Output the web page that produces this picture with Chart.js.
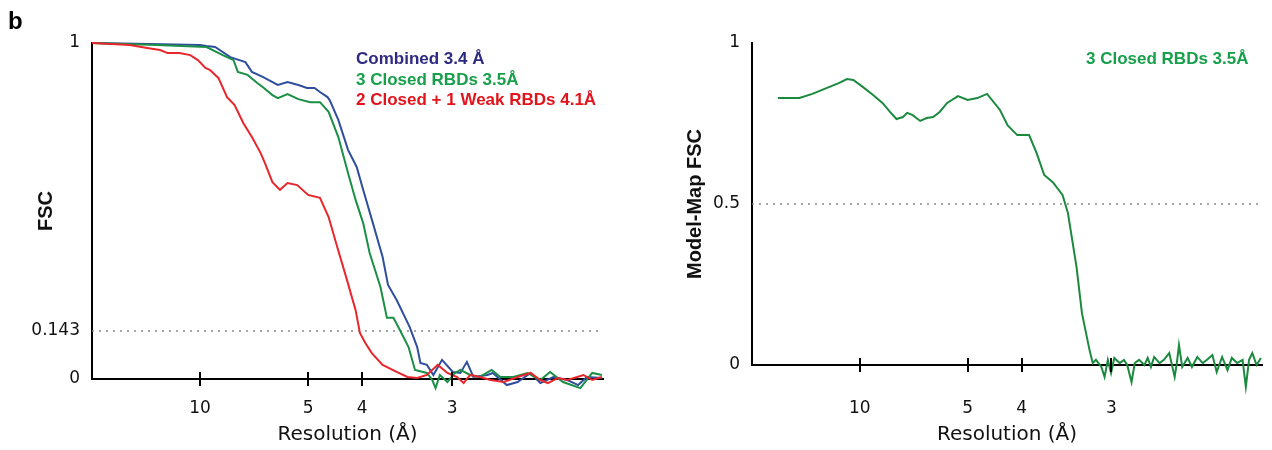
<!DOCTYPE html>
<html>
<head>
<meta charset="utf-8">
<script src="https://cdn.jsdelivr.net/npm/chart.js@4.4.0/dist/chart.umd.min.js"></script>
<style>
  body { margin: 0; background: #fff; }
  #wrap { position: relative; width: 1272px; height: 450px; }
  canvas { position: absolute; top: 0; }
  .txt { position: absolute; font-family: "Liberation Sans", Arial, sans-serif; font-weight: bold; white-space: nowrap; }
  .leg { font-size: 17px; line-height: 20.5px; }
</style>
</head>
<body>
<div id="wrap">
  <canvas id="fscChart" width="636" height="450" style="left:0"></canvas>
  <canvas id="mmChart" width="636" height="450" style="left:636px"></canvas>
  <div class="txt" style="left:8px;top:9px;font-size:24px;line-height:24px;color:#000">b</div>
  <div class="txt leg" style="left:356px;top:49px">
    <div style="color:#2e2a82">Combined 3.4 Å</div>
    <div style="color:#16a04a">3 Closed RBDs 3.5Å</div>
    <div style="color:#e3131b">2 Closed + 1 Weak RBDs 4.1Å</div>
  </div>
  <div class="txt leg" style="left:1086px;top:49px;color:#16a04a">3 Closed RBDs 3.5Å</div>
</div>
<script>
// eixo x em frequência espacial (1/Å), rotulado em Å
var freqMax = 0.473;
var resTickValues = [0.1, 0.2, 0.25, 0.3333];
var resTickLabels = ['10', '5', '4', '3'];

var fscTickValues = [0, 0.143, 1];
var fscTickLabels = ['0', '0.143', '1'];
var fscThreshold = 0.143;

var mmTickValues = [0, 0.5, 1];
var mmTickLabels = ['0', '0.5', '1'];
var mmThreshold = 0.5;

// curvas FSC [1/Å, FSC]
var combined = [[0,1.000],[0.054,0.997],[0.100,0.994],[0.106,0.991],[0.114,0.988],[0.128,0.958],[0.142,0.943],[0.148,0.914],[0.158,0.899],[0.172,0.875],[0.181,0.884],[0.191,0.875],[0.199,0.866],[0.206,0.866],[0.211,0.854],[0.218,0.839],[0.220,0.830],[0.228,0.771],[0.237,0.682],[0.245,0.631],[0.251,0.563],[0.260,0.464],[0.269,0.363],[0.274,0.280],[0.282,0.235],[0.294,0.155],[0.301,0.095],[0.304,0.048],[0.310,0.042],[0.316,0.012],[0.324,0.057],[0.334,0.021],[0.341,0.018],[0.347,0.051],[0.353,0.006],[0.366,0.012],[0.371,0.018],[0.384,-0.018],[0.394,-0.009],[0.406,0.018],[0.415,-0.012],[0.427,0.006],[0.440,-0.003],[0.450,-0.018],[0.458,0.006],[0.472,0.003]];

var closed3 = [[0,1.000],[0.060,0.994],[0.106,0.988],[0.121,0.964],[0.131,0.949],[0.135,0.914],[0.144,0.905],[0.153,0.881],[0.158,0.869],[0.167,0.845],[0.172,0.836],[0.181,0.848],[0.191,0.833],[0.202,0.824],[0.211,0.824],[0.219,0.795],[0.228,0.720],[0.237,0.613],[0.244,0.533],[0.251,0.464],[0.257,0.375],[0.267,0.274],[0.273,0.182],[0.279,0.182],[0.285,0.146],[0.293,0.095],[0.299,0.027],[0.310,0.018],[0.315,-0.003],[0.318,-0.027],[0.322,0.012],[0.329,-0.009],[0.336,0.018],[0.341,0.027],[0.350,0.012],[0.359,0.006],[0.370,0.027],[0.378,0.006],[0.390,0.006],[0.403,0.018],[0.415,-0.003],[0.424,0.021],[0.436,-0.009],[0.452,-0.027],[0.463,0.018],[0.472,0.012]];

var closed2weak1 = [[0,1.000],[0.035,0.994],[0.051,0.985],[0.063,0.979],[0.070,0.970],[0.081,0.970],[0.091,0.964],[0.098,0.949],[0.105,0.926],[0.109,0.920],[0.117,0.896],[0.125,0.839],[0.132,0.815],[0.140,0.762],[0.148,0.720],[0.156,0.673],[0.160,0.643],[0.167,0.586],[0.174,0.563],[0.181,0.583],[0.190,0.577],[0.200,0.548],[0.211,0.539],[0.219,0.482],[0.227,0.393],[0.236,0.295],[0.244,0.205],[0.248,0.137],[0.253,0.107],[0.259,0.077],[0.269,0.042],[0.282,0.021],[0.292,0.006],[0.301,0.003],[0.310,0.012],[0.320,0.042],[0.329,0.018],[0.338,0.006],[0.344,-0.012],[0.350,0.012],[0.359,0.006],[0.369,-0.003],[0.381,-0.009],[0.394,0.006],[0.406,0.018],[0.415,-0.003],[0.422,-0.012],[0.431,0.003],[0.440,-0.003],[0.455,0.012],[0.463,-0.003],[0.472,0.006]];

// FSC modelo-mapa [1/Å, FSC]
var modelMap = [[0.024,0.829],[0.044,0.829],[0.056,0.842],[0.069,0.860],[0.081,0.876],[0.088,0.888],[0.094,0.885],[0.103,0.863],[0.112,0.839],[0.121,0.814],[0.128,0.786],[0.134,0.764],[0.140,0.770],[0.144,0.783],[0.149,0.776],[0.156,0.758],[0.162,0.767],[0.168,0.770],[0.174,0.786],[0.181,0.814],[0.191,0.835],[0.200,0.823],[0.209,0.829],[0.218,0.842],[0.230,0.792],[0.237,0.745],[0.246,0.714],[0.257,0.714],[0.264,0.658],[0.271,0.590],[0.279,0.568],[0.288,0.528],[0.293,0.472],[0.301,0.304],[0.306,0.161],[0.313,0.047],[0.316,0.006],[0.319,0.016],[0.324,-0.006],[0.327,-0.037],[0.330,0.016],[0.333,-0.025],[0.336,0.022],[0.341,0.006],[0.345,0.016],[0.348,0],[0.352,-0.053],[0.355,0.006],[0.359,0.016],[0.364,0],[0.367,0.022],[0.370,-0.006],[0.373,0.025],[0.378,0.006],[0.382,0.016],[0.387,0.037],[0.392,-0.037],[0.394,0.006],[0.396,0.062],[0.399,-0.006],[0.404,0.022],[0.408,-0.006],[0.413,0.025],[0.418,0.006],[0.422,0.016],[0.427,0.031],[0.431,-0.022],[0.436,0.025],[0.441,-0.016],[0.445,0.022],[0.450,0.006],[0.455,0.016],[0.458,-0.068],[0.461,0.016],[0.464,0.037],[0.468,0],[0.472,0.022]];

function toPoints(pairs) {
  return pairs.map(function (p) { return { x: p[0], y: p[1] }; });
}

function curve(pairs, color, order) {
  return {
    data: toPoints(pairs),
    borderColor: color,
    borderWidth: 2,
    pointRadius: 0,
    tension: 0,
    clip: false,
    order: order
  };
}

function dotted(value) {
  return {
    data: [{ x: 0, y: value }, { x: freqMax, y: value }],
    borderColor: '#8a8a8a',
    borderWidth: 1.5,
    borderDash: [2, 5],
    pointRadius: 0,
    order: 10
  };
}

// marcas do eixo x cruzando a linha do eixo
var crossTicks = {
  id: 'crossTicks',
  afterDatasetsDraw: function (chart) {
    var s = chart.scales.x;
    var ctx = chart.ctx;
    ctx.save();
    ctx.strokeStyle = '#000';
    ctx.lineWidth = 2;
    s.ticks.forEach(function (t) {
      var px = Math.round(s.getPixelForValue(t.value));
      ctx.beginPath();
      ctx.moveTo(px, s.top - 7);
      ctx.lineTo(px, s.top + 7);
      ctx.stroke();
    });
    ctx.restore();
  }
};

function makeOptions(cfg) {
  return {
    responsive: false,
    animation: false,
    layout: { padding: { top: 43, right: cfg.padRight, bottom: 0, left: 0 } },
    plugins: { legend: { display: false }, tooltip: { enabled: false } },
    scales: {
      x: {
        type: 'linear',
        min: 0,
        max: freqMax,
        afterBuildTicks: function (scale) {
          scale.ticks = resTickValues.map(function (v) { return { value: v }; });
        },
        afterFit: function (scale) { scale.height = cfg.xHeight; },
        grid: { display: false, drawTicks: false },
        border: { display: true, color: '#000', width: 2 },
        ticks: {
          padding: cfg.xTickPad,
          color: '#111',
          font: { family: 'DejaVu Sans', size: 17 },
          maxRotation: 0,
          callback: function (v, i) { return resTickLabels[i]; }
        },
        title: {
          display: true,
          text: 'Resolution (Å)',
          color: '#111',
          font: { family: 'DejaVu Sans', size: 20 },
          padding: { top: 0, bottom: 3 }
        }
      },
      y: {
        type: 'linear',
        min: 0,
        max: 1,
        afterBuildTicks: function (scale) {
          scale.ticks = cfg.yTicks.map(function (v) { return { value: v }; });
        },
        afterFit: function (scale) { scale.width = cfg.yWidth; },
        grid: { display: false, drawTicks: false },
        border: { display: true, color: '#000', width: 2 },
        ticks: {
          padding: 12,
          color: '#111',
          font: { family: 'DejaVu Sans', size: 17 },
          callback: function (v, i) { return cfg.yLabels[i]; }
        },
        title: {
          display: true,
          text: cfg.yTitle,
          color: '#111',
          font: { family: 'Liberation Sans', size: 20, weight: 'bold' },
          padding: { top: cfg.yTitlePad, bottom: 0 }
        }
      }
    }
  };
}

// painel esquerdo: FSC
new Chart(document.getElementById('fscChart').getContext('2d'), {
  type: 'line',
  data: {
    datasets: [
      dotted(fscThreshold),
      curve(combined, '#2f4f9e', 3),
      curve(closed3, '#1a8f45', 2),
      curve(closed2weak1, '#e8262b', 1)
    ]
  },
  options: makeOptions({
    padRight: 33, xHeight: 71, xTickPad: 19, yWidth: 92, yTitlePad: 34,
    yTicks: fscTickValues, yLabels: fscTickLabels, yTitle: 'FSC'
  }),
  plugins: [crossTicks]
});

// painel direito: FSC modelo-mapa
new Chart(document.getElementById('mmChart').getContext('2d'), {
  type: 'line',
  data: {
    datasets: [
      dotted(mmThreshold),
      curve(modelMap, '#1b8a3f', 1)
    ]
  },
  options: makeOptions({
    padRight: 10, xHeight: 85, xTickPad: 33, yWidth: 116, yTitlePad: 47,
    yTicks: mmTickValues, yLabels: mmTickLabels, yTitle: 'Model-Map FSC'
  }),
  plugins: [crossTicks]
});
</script>
</body>
</html>
